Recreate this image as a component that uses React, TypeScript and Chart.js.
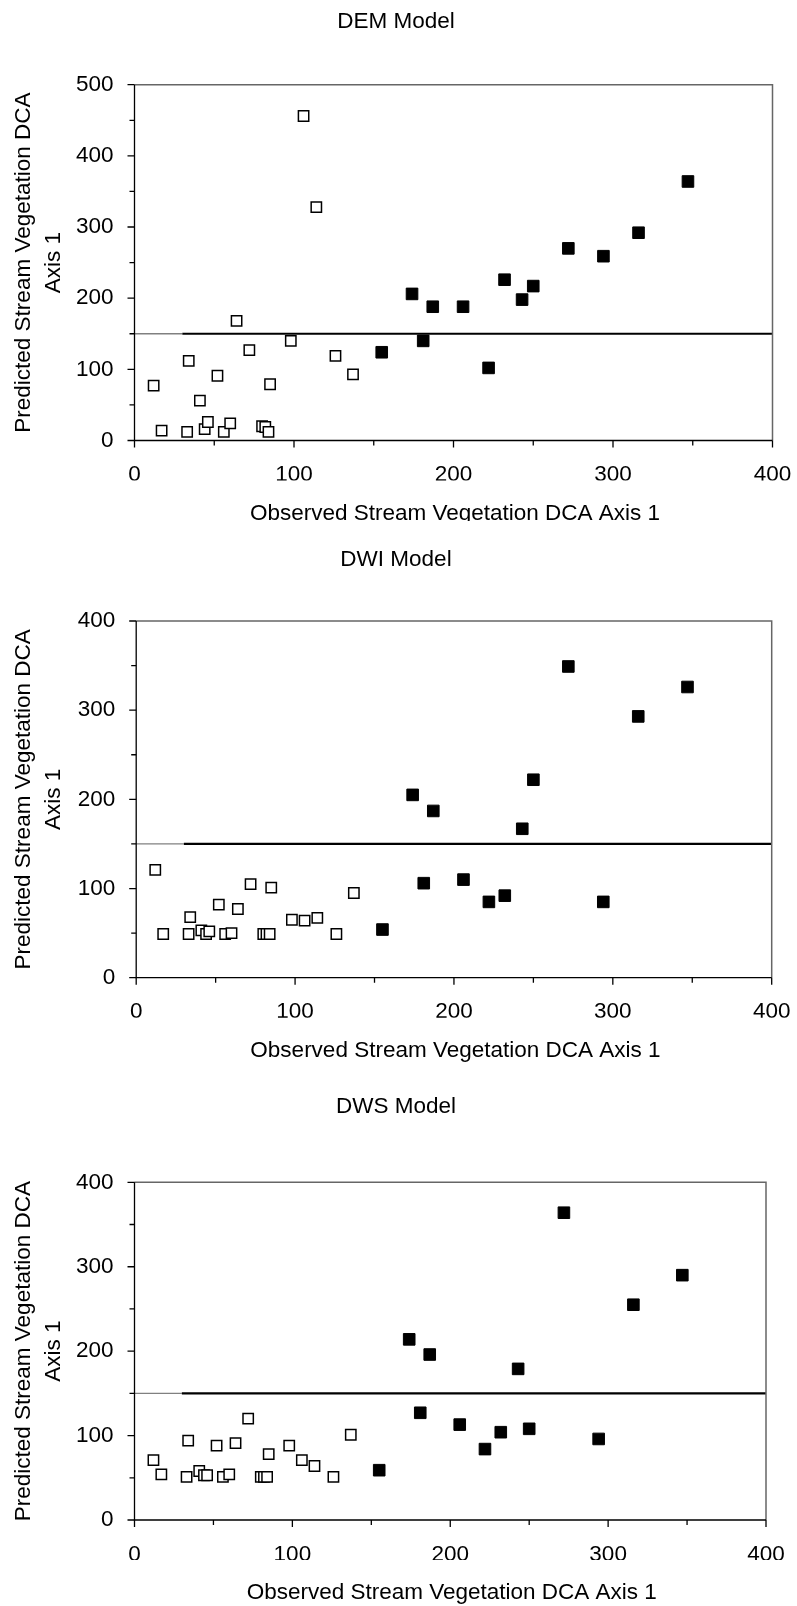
import React, { useEffect, useRef } from 'react';
import { Chart, registerables } from 'chart.js';

Chart.register(...registerables);

// ---- Data ----
const openObserved = [12, 17, 33, 34, 41, 44, 46, 52, 56, 60, 64, 72, 80, 82, 84, 85, 98, 106, 114, 126, 137];
const demOpenPredicted = [77, 14, 12, 112, 56, 16, 26, 91, 12, 24, 168, 127, 20, 19, 12, 79, 140, 456, 328, 119, 93];
const dwiOpenPredicted = [121, 49, 49, 68, 53, 49, 52, 82, 49, 50, 77, 105, 49, 49, 49, 101, 65, 64, 67, 49, 95];
const dwsOpenPredicted = [71, 54, 51, 94, 58, 53, 53, 88, 51, 54, 91, 120, 51, 51, 51, 78, 88, 71, 64, 51, 101];

const filledObserved = [155, 174, 181, 187, 206, 222, 232, 243, 250, 272, 294, 316, 347];
const demFilledPredicted = [124, 206, 140, 188, 188, 102, 226, 198, 217, 270, 259, 292, 364];
const dwiFilledPredicted = [54, 205, 106, 187, 110, 85, 92, 167, 222, 349, 85, 293, 326];
const dwsFilledPredicted = [59, 214, 127, 196, 113, 84, 104, 179, 108, 364, 96, 255, 290];

const xTickValues = [0, 100, 200, 300, 400];
const demYTickValues = [0, 100, 200, 300, 400, 500];
const dwYTickValues = [0, 100, 200, 300, 400];

const thresholdY = 150;
const thresholdStartX = 30;
const xMax = 400;

const chartTitles = ['DEM Model', 'DWI Model', 'DWS Model'];
const xAxisTitle = 'Observed Stream Vegetation DCA Axis 1';
const yAxisTitleLines = ['Predicted Stream Vegetation DCA', 'Axis 1'];

const FONT = "'Liberation Sans', Arial, Helvetica, sans-serif";
const FONT_SIZE = 22.5;

type Panel = {
  title: string;
  yTicks: number[];
  openY: number[];
  filledY: number[];
  top: number;
  height: number;
  area: { left: number; right: number; top: number; bottom: number };
  titleY: number;
  xTitleY: number;
};

const panels: Panel[] = [
  {
    title: chartTitles[0],
    yTicks: demYTickValues,
    openY: demOpenPredicted,
    filledY: demFilledPredicted,
    top: 0,
    height: 521,
    area: { left: 134.5, right: 772.5, top: 84.7, bottom: 440.5 },
    titleY: 22,
    xTitleY: 513.5,
  },
  {
    title: chartTitles[1],
    yTicks: dwYTickValues,
    openY: dwiOpenPredicted,
    filledY: dwiFilledPredicted,
    top: 521,
    height: 545,
    area: { left: 136.2, right: 771.7, top: 100, bottom: 456.7 },
    titleY: 39,
    xTitleY: 529.5,
  },
  {
    title: chartTitles[2],
    yTicks: dwYTickValues,
    openY: dwsOpenPredicted,
    filledY: dwsFilledPredicted,
    top: 1066,
    height: 540,
    area: { left: 134.5, right: 766, top: 116.3, bottom: 454 },
    titleY: 41,
    xTitleY: 526.7,
  },
];

function ScatterPanel({ panel }: { panel: Panel }) {
  const ref = useRef<HTMLCanvasElement | null>(null);

  useEffect(() => {
    const canvas = ref.current;
    if (!canvas) return;
    const W = 797;
    const H = panel.height;
    const a = panel.area;
    const yMax = panel.yTicks[panel.yTicks.length - 1];
    const xScaleHeight = 40;

    const decor = {
      id: 'decor' + panel.title.replace(/\s/g, ''),
      afterDraw(chart: any) {
        const { ctx, chartArea } = chart;
        const xs = chart.scales.x;
        const ys = chart.scales.y;
        ctx.save();
        // plot border: top & right gray, left & bottom black
        ctx.lineWidth = 1.5;
        ctx.strokeStyle = '#666666';
        ctx.beginPath();
        ctx.moveTo(chartArea.left, chartArea.top);
        ctx.lineTo(chartArea.right, chartArea.top);
        ctx.lineTo(chartArea.right, chartArea.bottom);
        ctx.stroke();
        ctx.strokeStyle = '#000000';
        ctx.lineWidth = 1.3;
        ctx.beginPath();
        ctx.moveTo(chartArea.left, chartArea.top);
        ctx.lineTo(chartArea.left, chartArea.bottom);
        ctx.lineTo(chartArea.right, chartArea.bottom);
        ctx.stroke();
        // tick marks (major every 100, minor every 50)
        ctx.beginPath();
        for (let v = 0; v <= yMax; v += 50) {
          const py = ys.getPixelForValue(v);
          const len = v % 100 === 0 ? 7 : 5;
          ctx.moveTo(chartArea.left - len, py);
          ctx.lineTo(chartArea.left, py);
        }
        for (let v = 0; v <= xMax; v += 50) {
          const px = xs.getPixelForValue(v);
          const len = v % 100 === 0 ? 7 : 5;
          ctx.moveTo(px, chartArea.bottom);
          ctx.lineTo(px, chartArea.bottom + len);
        }
        ctx.stroke();
        // titles
        ctx.fillStyle = '#000000';
        ctx.font = `${FONT_SIZE}px ${FONT}`;
        ctx.textAlign = 'center';
        ctx.textBaseline = 'middle';
        ctx.fillText(panel.title, 396, panel.titleY);
        ctx.fillText(xAxisTitle, (chartArea.left + chartArea.right) / 2 + 1.5, panel.xTitleY);
        ctx.translate(29.5, (chartArea.top + chartArea.bottom) / 2);
        ctx.rotate(-Math.PI / 2);
        ctx.textBaseline = 'alphabetic';
        ctx.fillText(yAxisTitleLines[0], 0, 0);
        ctx.fillText(yAxisTitleLines[1], 0, 30);
        ctx.restore();
      },
    };

    const chart = new Chart(canvas, {
      type: 'scatter',
      data: {
        datasets: [
          {
            label: 'filled',
            data: filledObserved.map((x, i) => ({ x, y: panel.filledY[i] })),
            pointStyle: 'rect',
            pointRadius: 8.2,
            backgroundColor: '#000000',
            borderColor: '#000000',
            borderWidth: 1,
          },
          {
            label: 'open',
            data: openObserved.map((x, i) => ({ x, y: panel.openY[i] })),
            pointStyle: 'rect',
            pointRadius: 7.3,
            backgroundColor: '#ffffff',
            borderColor: '#000000',
            borderWidth: 1.5,
          },
          {
            label: 'threshold',
            type: 'line',
            data: [
              { x: thresholdStartX, y: thresholdY },
              { x: xMax, y: thresholdY },
            ],
            borderColor: '#000000',
            borderWidth: 2.2,
            pointRadius: 0,
            showLine: true,
          } as any,
          {
            label: 'threshold-start',
            type: 'line',
            data: [
              { x: 0, y: thresholdY },
              { x: thresholdStartX, y: thresholdY },
            ],
            borderColor: '#808080',
            borderWidth: 1.3,
            pointRadius: 0,
            showLine: true,
          } as any,
        ],
      },
      options: {
        responsive: false,
        animation: false,
        devicePixelRatio: 1,
        layout: {
          padding: {
            left: 0,
            right: W - a.right,
            top: a.top,
            bottom: H - a.bottom - xScaleHeight,
          },
        },
        plugins: {
          legend: { display: false },
          tooltip: { enabled: false },
          title: { display: false },
        },
        scales: {
          x: {
            type: 'linear',
            min: 0,
            max: xMax,
            afterFit: (s: any) => {
              s.height = xScaleHeight;
              s.paddingLeft = 0;
              s.paddingRight = 0;
            },
            afterBuildTicks: (s: any) => {
              s.ticks = xTickValues.map((v) => ({ value: v }));
            },
            grid: { display: false, drawTicks: false },
            border: { display: false },
            ticks: {
              padding: 21,
              color: '#000000',
              font: { family: FONT, size: FONT_SIZE },
              maxRotation: 0,
              autoSkip: false,
            },
          },
          y: {
            type: 'linear',
            min: 0,
            max: yMax,
            afterFit: (s: any) => {
              s.width = a.left;
              s.paddingTop = 0;
              s.paddingBottom = 0;
            },
            afterBuildTicks: (s: any) => {
              s.ticks = panel.yTicks.map((v) => ({ value: v }));
            },
            grid: { display: false, drawTicks: false },
            border: { display: false },
            ticks: {
              padding: 21,
              color: '#000000',
              font: { family: FONT, size: FONT_SIZE },
              autoSkip: false,
            },
          },
        },
      },
      plugins: [decor],
    } as any);

    return () => {
      chart.destroy();
    };
  }, [panel]);

  return (
    <canvas
      ref={ref}
      width={797}
      height={panel.height}
      style={{ position: 'absolute', left: 0, top: panel.top, display: 'block' }}
    />
  );
}

export default function App() {
  return (
    <div style={{ position: 'absolute', left: 0, top: 0, width: 797, height: 1606, background: '#ffffff', overflow: 'hidden' }}>
      {panels.map((p) => (
        <ScatterPanel key={p.title} panel={p} />
      ))}
    </div>
  );
}
